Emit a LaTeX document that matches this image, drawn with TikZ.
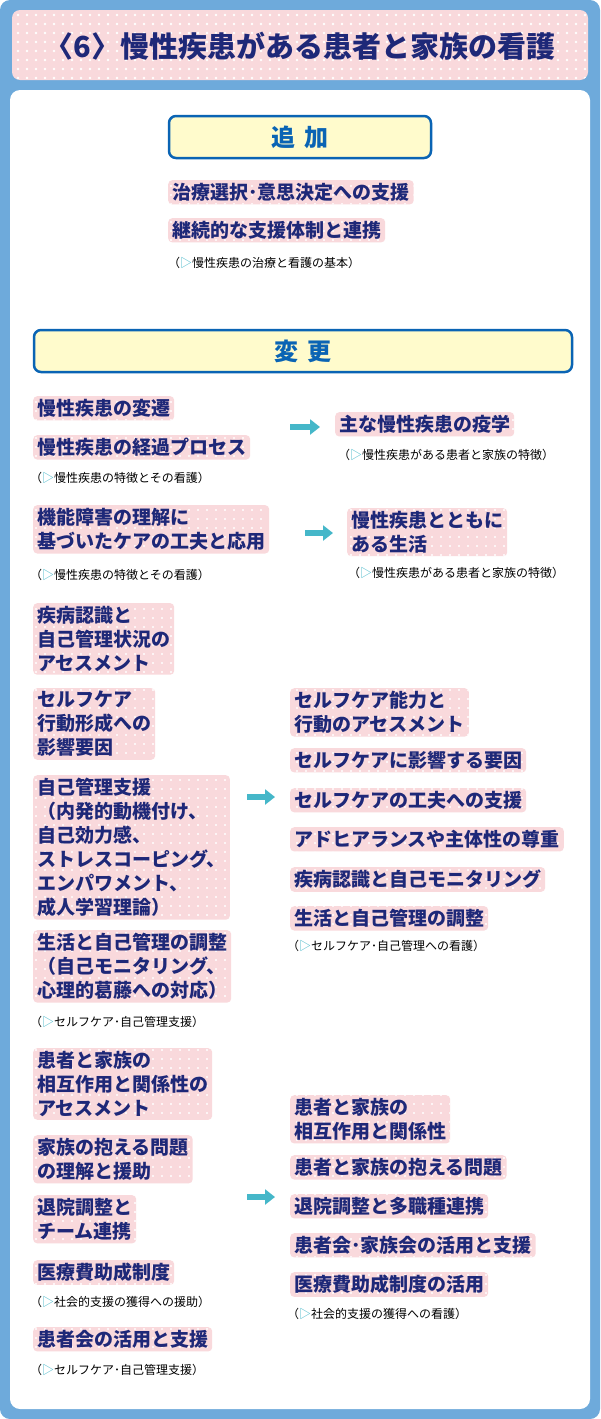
\documentclass[tikz,border=0pt]{standalone}
\usepackage{fontspec}
\setmainfont{Noto Sans CJK JP}
\usetikzlibrary{patterns.meta,arrows.meta}
\definecolor{frame}{HTML}{6EAADB}
\definecolor{pinkbg}{HTML}{F9D9DC}
\definecolor{navy}{HTML}{1E2878}
\definecolor{hblue}{HTML}{0A64B4}
\definecolor{hyel}{HTML}{FFFBCC}
\definecolor{arr}{HTML}{45B7C9}
\newcommand{\tri}{{\color{arr}▷}}
\tikzset{
 item/.style={anchor=north west, font=\bfseries\fontsize{19}{24}\selectfont, text=navy, align=left,
   inner xsep=4pt, inner ysep=3pt, rounded corners=4pt, preaction={fill=pinkbg},
   pattern={Dots[radius=1.2pt,distance=9pt]}, pattern color=white},
 note/.style={anchor=north west, font=\fontsize{12}{14}\selectfont, text=black, inner sep=0pt},
 head/.style={draw=hblue, line width=2.5pt, fill=hyel, rounded corners=7pt, text=hblue,
   font=\bfseries\fontsize{24}{28}\selectfont},
 barrow/.style={arr, line width=6pt, -{Triangle[width=15pt,length=10pt]}}
}
\begin{document}
\begin{tikzpicture}[x=1pt,y=-1pt]
\useasboundingbox (0,0) rectangle (600,1419);
\fill[frame, rounded corners=10pt] (0,0) rectangle (600,1419);
\path[rounded corners=8pt, preaction={fill=pinkbg}, pattern={Dots[radius=1.3pt,distance=9pt]}, pattern color=white] (12,10) rectangle (588,80);
\node[font=\bfseries\fontsize{29}{32}\selectfont, text=navy] (title) at (300,46) {〈6〉慢性疾患がある患者と家族の看護};
\fill[white, rounded corners=10pt] (10,90) rectangle (590,1409);
% 追加
\node[head, minimum width=262pt, minimum height=42pt] (add) at (300,137) {追\hspace{0.4em}加};
\node[item] (a1) at (168,180) {治療選択･意思決定への支援};
\node[item] (a2) at (168,218) {継続的な支援体制と連携};
\node[note] (an) at (168,257) {（\tri 慢性疾患の治療と看護の基本）};
% 変更
\node[head, minimum width=538pt, minimum height=42pt] (chg) at (303,351) {変\hspace{0.4em}更};
% group 1
\node[item] (l1) at (33,396) {慢性疾患の変遷};
\node[item] (l2) at (33,435) {慢性疾患の経過プロセス};
\node[note] (ln1) at (30,472) {（\tri 慢性疾患の特徴とその看護）};
\coordinate (g1s) at (290,427); \coordinate (g1e) at (320,427);
\draw[barrow] (g1s) -- (g1e);
\node[item] (r1) at (335,412) {主な慢性疾患の疫学};
\node[note] (rn1) at (338,449) {（\tri 慢性疾患がある患者と家族の特徴）};
% group 2
\node[item] (l3) at (33,505) {機能障害の理解に\\基づいたケアの工夫と応用};
\node[note] (ln2) at (30,569) {（\tri 慢性疾患の特徴とその看護）};
\coordinate (g2s) at (305,533); \coordinate (g2e) at (333,533);
\draw[barrow] (g2s) -- (g2e);
\node[item] (r2) at (347,508) {慢性疾患とともに\\ある生活};
\node[note] (rn2) at (348,567) {（\tri 慢性疾患がある患者と家族の特徴）};
% group 3
\node[item] (l4) at (33,603) {疾病認識と\\自己管理状況の\\アセスメント};
\node[item] (l5) at (33,688) {セルフケア\\行動形成への\\影響要因};
\node[item] (l6) at (33,775) {自己管理支援\\（内発的動機付け、\\自己効力感、\\ストレスコーピング、\\エンパワメント、\\成人学習理論）};
\node[item] (l7) at (33,930) {生活と自己管理の調整\\（自己モニタリング、\\心理的葛藤への対応）};
\node[note] (ln3) at (30,1016) {（\tri セルフケア･自己管理支援）};
\coordinate (g3s) at (247,797); \coordinate (g3e) at (275,797);
\draw[barrow] (g3s) -- (g3e);
\node[item] (r3) at (290,688) {セルフケア能力と\\行動のアセスメント};
\node[item] (r4) at (290,748) {セルフケアに影響する要因};
\node[item] (r5) at (290,788) {セルフケアの工夫への支援};
\node[item] (r6) at (290,827) {アドヒアランスや主体性の尊重};
\node[item] (r7) at (290,867) {疾病認識と自己モニタリング};
\node[item] (r8) at (290,906) {生活と自己管理の調整};
\node[note] (rn3) at (287,940) {（\tri セルフケア･自己管理への看護）};
% group 4
\node[item] (l8) at (33,1048) {患者と家族の\\相互作用と関係性の\\アセスメント};
\node[item] (l9) at (33,1135) {家族の抱える問題\\の理解と援助};
\node[item] (l10) at (33,1195) {退院調整と\\チーム連携};
\node[item] (l11) at (33,1260) {医療費助成制度};
\node[note] (ln4) at (30,1296) {（\tri 社会的支援の獲得への援助）};
\node[item] (l12) at (33,1327) {患者会の活用と支援};
\node[note] (ln5) at (30,1364) {（\tri セルフケア･自己管理支援）};
\coordinate (g4s) at (247,1197); \coordinate (g4e) at (275,1197);
\draw[barrow] (g4s) -- (g4e);
\node[item] (r9) at (290,1095) {患者と家族の\\相互作用と関係性};
\node[item] (r10) at (290,1155) {患者と家族の抱える問題};
\node[item] (r11) at (290,1194) {退院調整と多職種連携};
\node[item] (r12) at (290,1233) {患者会･家族会の活用と支援};
\node[item] (r13) at (290,1272) {医療費助成制度の活用};
\node[note] (rn4) at (287,1308) {（\tri 社会的支援の獲得への看護）};
\end{tikzpicture}
\end{document}
